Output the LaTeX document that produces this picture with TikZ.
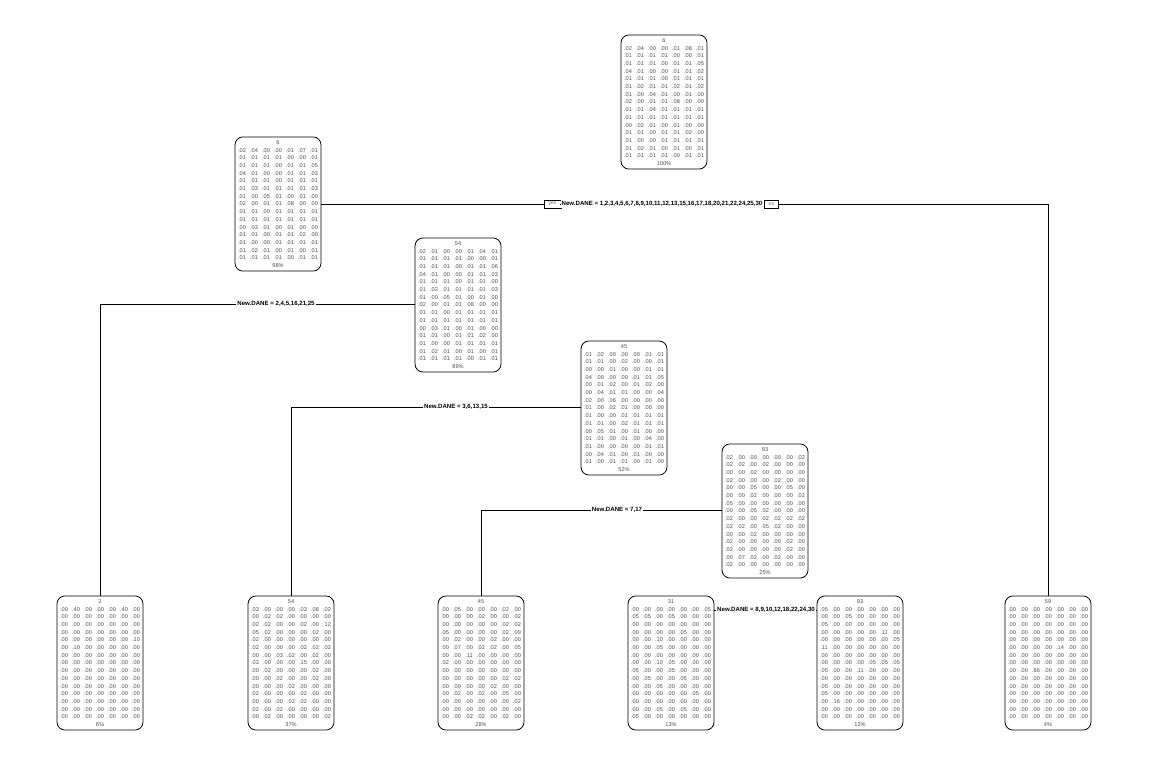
\documentclass[tikz,border=0pt]{standalone}
\usepackage{fontspec}
\setmainfont{Liberation Sans}
% one fixed-width cell per class probability
\newcommand\cel[1]{\makebox[12pt]{#1}}
\def\vrow#1 #2 #3 #4 #5 #6 #7;{\cel{#1}\cel{#2}\cel{#3}\cel{#4}\cel{#5}\cel{#6}\cel{#7}\\}
\def\zrow{\vrow .00 .00 .00 .00 .00 .00 .00;}
\begin{document}
\begin{tikzpicture}[x=1pt,y=-1pt,
  treebox/.style={draw, line width=0.8pt, rounded corners=8pt, align=center,
    inner xsep=1pt, inner ysep=3.5pt, minimum width=86pt,
    font=\fontsize{5.6}{7.7}\selectfont, text=black!70},
  splitlbl/.style={fill=white, inner xsep=1pt, inner ysep=1pt,
    font=\bfseries\fontsize{6.1}{7}\selectfont},
  ynbox/.style={draw, line width=0.5pt, fill=white, inner xsep=1pt, inner ysep=0pt,
    minimum height=7.5pt, font=\fontsize{5}{6}\selectfont, text=black!60},
  wire/.style={line width=0.8pt}]
\useasboundingbox (0,0) rectangle (1150,766);

% ---- root ----
\node[treebox] (n1) at (664,102) {6\\
\vrow .02 .04 .00 .00 .01 .08 .01;
\vrow .01 .01 .01 .01 .00 .00 .01;
\vrow .01 .01 .01 .00 .01 .01 .05;
\vrow .04 .01 .00 .00 .01 .01 .02;
\vrow .01 .01 .01 .00 .01 .01 .01;
\vrow .01 .02 .01 .01 .02 .01 .02;
\vrow .01 .00 .04 .01 .00 .01 .00;
\vrow .02 .00 .01 .01 .08 .00 .00;
\vrow .01 .01 .04 .01 .01 .01 .01;
\vrow .01 .01 .01 .01 .01 .01 .01;
\vrow .00 .02 .01 .00 .01 .00 .00;
\vrow .01 .01 .00 .01 .01 .02 .00;
\vrow .01 .00 .00 .01 .01 .01 .01;
\vrow .01 .02 .01 .00 .01 .00 .01;
\vrow .01 .01 .01 .01 .00 .01 .01;
100\%};

% ---- internal nodes ----
\node[treebox] (n2) at (278,204) {6\\
\vrow .02 .04 .00 .00 .01 .07 .01;
\vrow .01 .01 .01 .01 .00 .00 .01;
\vrow .01 .01 .01 .00 .01 .01 .05;
\vrow .04 .01 .00 .00 .01 .01 .03;
\vrow .01 .01 .01 .00 .01 .01 .01;
\vrow .01 .03 .01 .01 .01 .01 .03;
\vrow .01 .00 .05 .01 .00 .01 .00;
\vrow .02 .00 .01 .01 .08 .00 .00;
\vrow .01 .01 .00 .01 .01 .01 .01;
\vrow .01 .01 .01 .01 .01 .01 .01;
\vrow .00 .03 .01 .00 .01 .00 .00;
\vrow .01 .01 .00 .01 .01 .02 .00;
\vrow .01 .00 .00 .01 .01 .01 .01;
\vrow .01 .02 .01 .00 .01 .00 .01;
\vrow .01 .01 .01 .01 .00 .01 .01;
98\%};

\node[treebox] (n3) at (458,305) {54\\
\vrow .02 .01 .00 .00 .01 .04 .01;
\vrow .01 .01 .01 .01 .00 .00 .01;
\vrow .01 .01 .01 .00 .01 .01 .06;
\vrow .04 .01 .00 .00 .01 .01 .03;
\vrow .01 .01 .01 .00 .01 .01 .00;
\vrow .01 .02 .01 .01 .01 .01 .03;
\vrow .01 .00 .05 .01 .00 .01 .00;
\vrow .02 .00 .01 .01 .08 .00 .00;
\vrow .01 .01 .00 .01 .01 .01 .01;
\vrow .01 .01 .01 .01 .01 .01 .01;
\vrow .00 .03 .01 .00 .01 .00 .00;
\vrow .01 .01 .00 .01 .01 .02 .00;
\vrow .01 .00 .00 .01 .01 .01 .01;
\vrow .01 .02 .01 .00 .01 .00 .01;
\vrow .01 .01 .01 .01 .00 .01 .01;
89\%};

\node[treebox] (n4) at (624,408) {45\\
\vrow .01 .02 .00 .00 .00 .01 .01;
\vrow .01 .01 .00 .02 .00 .00 .01;
\vrow .00 .00 .01 .00 .00 .01 .01;
\vrow .04 .00 .00 .00 .01 .01 .05;
\vrow .00 .01 .02 .00 .01 .02 .00;
\vrow .00 .04 .01 .01 .00 .00 .04;
\vrow .02 .00 .06 .00 .00 .00 .00;
\vrow .01 .00 .02 .01 .00 .00 .00;
\vrow .01 .00 .00 .01 .01 .01 .01;
\vrow .01 .01 .00 .02 .01 .01 .01;
\vrow .00 .05 .01 .00 .01 .00 .00;
\vrow .01 .01 .00 .01 .00 .04 .00;
\vrow .01 .00 .00 .00 .00 .01 .01;
\vrow .00 .04 .01 .00 .01 .00 .00;
\vrow .01 .00 .01 .01 .00 .01 .00;
52\%};

\node[treebox] (n5) at (765,511) {93\\
\vrow .02 .00 .00 .00 .00 .00 .02;
\vrow .02 .02 .00 .02 .00 .00 .00;
\vrow .00 .00 .02 .00 .00 .00 .00;
\vrow .02 .00 .00 .00 .02 .00 .00;
\vrow .00 .00 .05 .00 .00 .05 .00;
\vrow .00 .00 .02 .00 .00 .00 .02;
\vrow .05 .00 .00 .00 .00 .00 .00;
\vrow .00 .00 .05 .02 .00 .00 .00;
\vrow .02 .00 .00 .02 .02 .02 .02;
\vrow .02 .02 .00 .05 .02 .00 .00;
\vrow .00 .00 .02 .00 .00 .00 .00;
\vrow .02 .00 .00 .00 .00 .02 .00;
\vrow .02 .00 .00 .00 .00 .02 .00;
\vrow .00 .07 .02 .00 .02 .00 .00;
\vrow .02 .00 .00 .00 .00 .00 .00;
25\%};

% ---- leaves ----
\node[treebox] (l1) at (100,663) {2\\
\vrow .00 .40 .00 .00 .00 .40 .00;
\zrow\zrow\zrow
\vrow .00 .00 .00 .00 .00 .00 .10;
\vrow .00 .10 .00 .00 .00 .00 .00;
\zrow\zrow\zrow\zrow\zrow\zrow\zrow\zrow\zrow
6\%};

\node[treebox] (l2) at (291,663) {54\\
\vrow .03 .00 .00 .00 .03 .08 .02;
\vrow .00 .02 .02 .00 .00 .00 .00;
\vrow .02 .02 .00 .00 .02 .00 .12;
\vrow .05 .02 .00 .00 .00 .02 .00;
\vrow .02 .00 .00 .00 .00 .00 .00;
\vrow .02 .00 .00 .00 .02 .02 .02;
\vrow .00 .00 .03 .02 .00 .02 .00;
\vrow .03 .00 .00 .00 .15 .00 .00;
\vrow .00 .02 .00 .00 .00 .02 .00;
\vrow .00 .00 .02 .00 .00 .02 .00;
\vrow .00 .00 .00 .02 .00 .00 .00;
\vrow .02 .00 .00 .00 .02 .00 .00;
\vrow .00 .00 .00 .02 .02 .00 .00;
\vrow .02 .00 .02 .00 .00 .00 .00;
\vrow .00 .02 .00 .00 .00 .00 .02;
37\%};

\node[treebox] (l3) at (481,663) {45\\
\vrow .00 .05 .00 .00 .00 .02 .00;
\vrow .00 .00 .00 .02 .00 .00 .02;
\vrow .00 .00 .00 .00 .00 .02 .02;
\vrow .05 .00 .00 .00 .00 .02 .09;
\vrow .00 .02 .00 .00 .02 .00 .00;
\vrow .00 .07 .00 .02 .02 .00 .05;
\vrow .00 .00 .11 .00 .00 .00 .00;
\vrow .02 .00 .00 .00 .00 .00 .00;
\zrow
\vrow .00 .00 .00 .00 .00 .02 .02;
\vrow .00 .09 .00 .00 .02 .00 .00;
\vrow .00 .02 .00 .02 .00 .05 .00;
\vrow .00 .00 .00 .00 .00 .00 .02;
\zrow
\vrow .00 .00 .02 .02 .00 .02 .00;
28\%};

\node[treebox] (l4) at (671,663) {31\\
\vrow .00 .00 .00 .00 .00 .00 .05;
\vrow .05 .05 .00 .05 .00 .00 .00;
\zrow
\vrow .00 .00 .00 .00 .05 .00 .00;
\vrow .00 .00 .10 .00 .00 .00 .00;
\vrow .00 .00 .05 .00 .00 .00 .00;
\zrow
\vrow .00 .00 .10 .05 .00 .00 .00;
\vrow .05 .00 .00 .05 .00 .00 .00;
\vrow .00 .05 .00 .00 .05 .00 .00;
\vrow .00 .00 .05 .00 .00 .00 .00;
\vrow .00 .00 .00 .00 .00 .05 .00;
\zrow
\vrow .00 .00 .05 .00 .05 .00 .00;
\vrow .05 .00 .00 .00 .00 .00 .00;
13\%};

\node[treebox] (l5) at (860,663) {93\\
\vrow .05 .00 .00 .00 .00 .00 .00;
\vrow .00 .00 .05 .00 .00 .00 .00;
\vrow .05 .00 .00 .00 .00 .00 .00;
\vrow .00 .00 .00 .00 .00 .11 .00;
\vrow .00 .00 .00 .00 .00 .00 .05;
\vrow .11 .00 .00 .00 .00 .00 .00;
\zrow
\vrow .00 .00 .00 .00 .05 .05 .05;
\vrow .05 .00 .00 .11 .00 .00 .00;
\zrow
\vrow .05 .00 .00 .00 .00 .00 .00;
\vrow .05 .00 .00 .00 .00 .00 .00;
\vrow .00 .16 .00 .00 .00 .00 .00;
\zrow\zrow
12\%};

\node[treebox] (l6) at (1048,663) {59\\
\zrow\zrow\zrow\zrow\zrow
\vrow .00 .00 .00 .00 .14 .00 .00;
\zrow\zrow
\vrow .00 .00 .86 .00 .00 .00 .00;
\zrow\zrow\zrow\zrow\zrow\zrow
4\%};

% ---- split labels ----
\node[ynbox, minimum width=17pt] (yes) at (552.5,204) {yes};
\node[splitlbl] (s1) at (662,204) {New.DANE = 1,2,3,4,5,6,7,8,9,10,11,12,13,15,16,17,18,20,21,22,24,25,30};
\node[ynbox, minimum width=14pt] (no) at (771.5,204) {no};
\node[splitlbl] (s2) at (276,304) {New.DANE = 2,4,5,16,21,25};
\node[splitlbl] (s3) at (456,407) {New.DANE = 3,6,13,15};
\node[splitlbl] (s4) at (617,510) {New.DANE = 7,17};
\node[splitlbl] (s5) at (766,610) {New.DANE = 8,9,10,12,18,22,24,30};

% ---- branches ----
\draw[wire] (n2.east) -- (yes.west);
\draw[wire] (yes.east) -- (s1.west);
\draw[wire] (s1.east) -- (no.west);
\draw[wire] (no.east) -| (l6.north);

\draw[wire] (s2.west) -| (l1.north);
\draw[wire] (s2.east) -- (s2.east -| n3.west);

\draw[wire] (s3.west) -| (l2.north);
\draw[wire] (s3.east) -- (s3.east -| n4.west);

\draw[wire] (s4.west) -| (l3.north);
\draw[wire] (s4.east) -- (s4.east -| n5.west);

\draw[wire] (s5.west) -- (s5.west -| l4.east);
\draw[wire] (s5.east) -- (s5.east -| l5.west);
\end{tikzpicture}
\end{document}
